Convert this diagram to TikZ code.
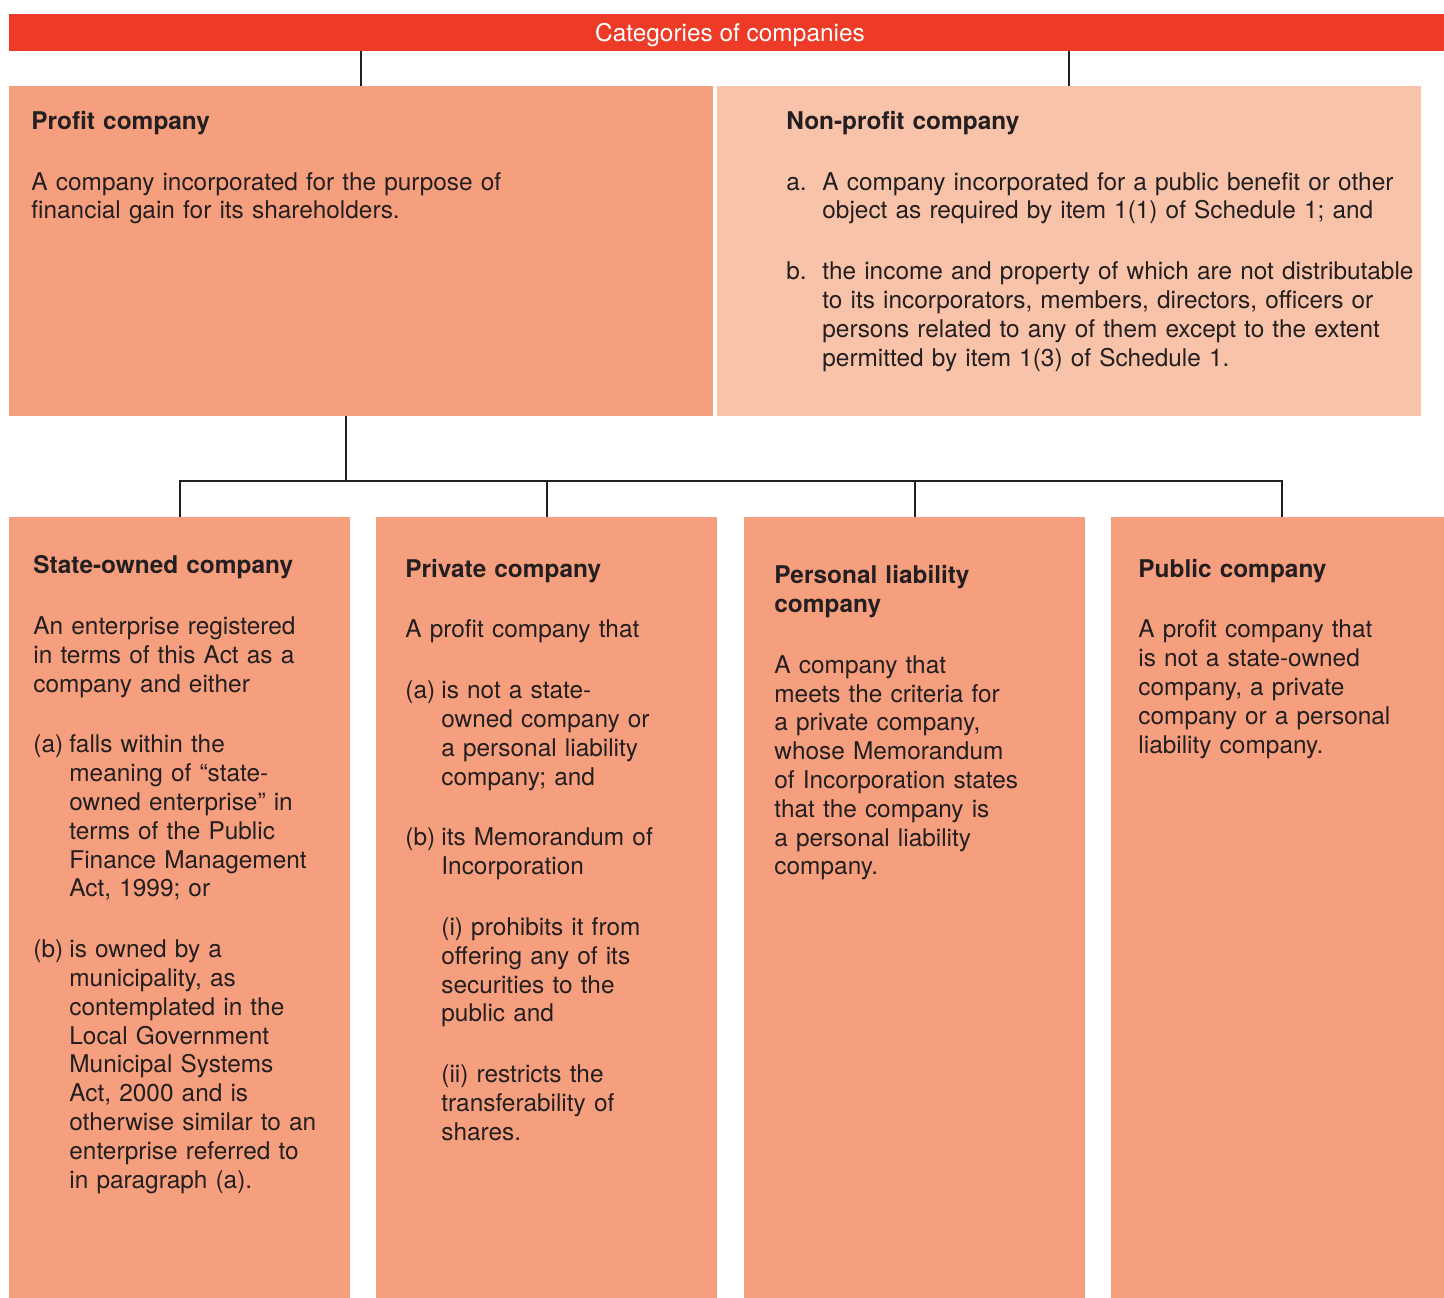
\documentclass[tikz,border=0pt]{standalone}
\usepackage{fontspec}
\setmainfont{TeX Gyre Heros}
\usepackage{tikz}
\definecolor{barred}{HTML}{EE3B28}
\definecolor{salmon}{HTML}{F69F7E}
\definecolor{peach}{HTML}{F9C3AA}
\definecolor{ink}{HTML}{231F20}
\newlength{\itemind}\setlength{\itemind}{18pt}
\newlength{\paragap}\setlength{\paragap}{16pt}
\newcommand*{\bodyfont}{\fontsize{12.2}{14.4}\selectfont}
\newcommand*{\lbl}[1]{\makebox[\itemind][l]{#1}}
\newcommand*{\indline}{\hspace*{\itemind}}

\begin{document}
\begin{tikzpicture}[x=0.5pt,y=-0.5pt,
    box/.style={fill=salmon, inner sep=0pt, outer sep=0pt, anchor=north west},
    txt/.style={anchor=north west, inner sep=0pt, align=left, font=\bodyfont, text=ink},
    link/.style={draw=ink, line width=1pt}]
  \useasboundingbox (0,0) rectangle (1444,1297);
  % top level
  \node[box, fill=barred, minimum width=721pt, minimum height=18.5pt,
    text height=9pt, text depth=0pt, font=\bodyfont, text=white] (bar) at (9,14) {Categories of companies};
  \node[box, minimum width=352pt, minimum height=165pt] (profit) at (9,86) {};
  \node[box, fill=peach, minimum width=352pt, minimum height=165pt] (nonprofit) at (717,86) {};
  % second level
  \node[box, minimum width=170.5pt, minimum height=395pt] (state) at (9,517) {};
  \node[box, minimum width=170.5pt, minimum height=395pt] (private) at (376,517) {};
  \node[box, minimum width=170.5pt, minimum height=395pt] (personal) at (744,517) {};
  \node[box, minimum width=170.5pt, minimum height=395pt] (public) at (1111,517) {};
  \coordinate (hub) at (346,481);

  \node[txt, text width=340pt] (profittxt) at (31,108.8) {%
    \strut\textbf{Profit company}\\[\paragap]
    A company incorporated for the purpose of\\
    financial gain for its shareholders.};
  \node[txt, text width=340pt] (nonprofittxt) at (786,108.8) {%
    \strut\textbf{Non-profit company}\\[\paragap]
    \lbl{a.}A company incorporated for a public benefit or other\\
    \indline object as required by item 1(1) of Schedule 1; and\\[\paragap]
    \lbl{b.}the income and property of which are not distributable\\
    \indline to its incorporators, members, directors, officers or\\
    \indline persons related to any of them except to the extent\\
    \indline permitted by item 1(3) of Schedule 1.};
  \node[txt, text width=165pt] (statetxt) at (33,553.1) {%
    \strut\textbf{State-owned company}\\[\paragap]
    An enterprise registered\\
    in terms of this Act as a\\
    company and either\\[\paragap]
    \lbl{(a)}falls within the\\
    \indline meaning of “state-\\
    \indline owned enterprise” in\\
    \indline terms of the Public\\
    \indline Finance Management\\
    \indline Act, 1999; or\\[\paragap]
    \lbl{(b)}is owned by a\\
    \indline municipality, as\\
    \indline contemplated in the\\
    \indline Local Government\\
    \indline Municipal Systems\\
    \indline Act, 2000 and is\\
    \indline otherwise similar to an\\
    \indline enterprise referred to\\
    \indline in paragraph (a).};
  \node[txt, text width=165pt] (privatetxt) at (405,556.5) {%
    \strut\textbf{Private company}\\[\paragap]
    A profit company that\\[\paragap]
    \lbl{(a)}is not a state-\\
    \indline owned company or\\
    \indline a personal liability\\
    \indline company; and\\[\paragap]
    \lbl{(b)}its Memorandum of\\
    \indline Incorporation\\[\paragap]
    \indline (i) prohibits it from\\
    \indline offering any of its\\
    \indline securities to the\\
    \indline public and\\[\paragap]
    \indline (ii) restricts the\\
    \indline transferability of\\
    \indline shares.};
  \node[txt, text width=165pt] (personaltxt) at (774,563.1) {%
    \strut\textbf{Personal liability}\\
    \textbf{company}\\[\paragap]
    A company that\\
    meets the criteria for\\
    a private company,\\
    whose Memorandum\\
    of Incorporation states\\
    that the company is\\
    a personal liability\\
    company.};
  \node[txt, text width=165pt] (publictxt) at (1138,556.5) {%
    \strut\textbf{Public company}\\[\paragap]
    A profit company that\\
    is not a state-owned\\
    company, a private\\
    company or a personal\\
    liability company.};

  % connectors
  \draw[link] (profit.north) -- (profit.north |- bar.south);
  \draw[link] (nonprofit.north) -- (nonprofit.north |- bar.south);
  \draw[link] (hub |- profit.south) -- (hub);
  \draw[link] (state.north) |- (hub) -| (public.north);
  \foreach \b in {private,personal}{
    \draw[link] (\b.north) -- (\b.north |- hub);
  }
\end{tikzpicture}
\end{document}
